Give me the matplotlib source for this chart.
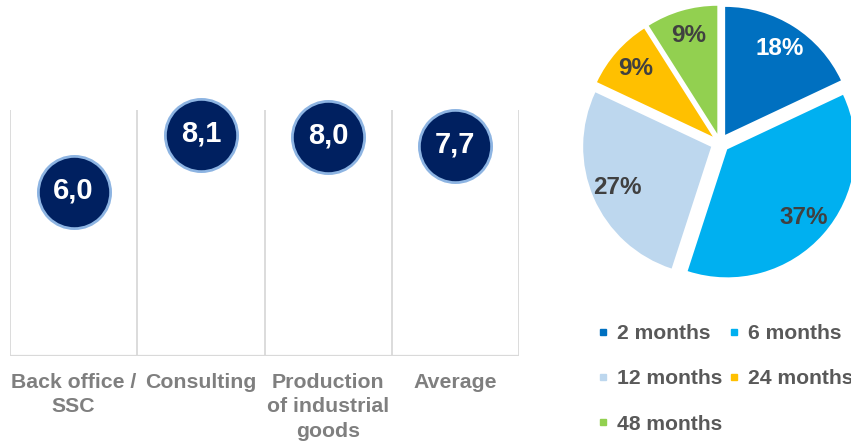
import matplotlib
matplotlib.use("Agg")
import matplotlib.pyplot as plt
from matplotlib.lines import Line2D

plt.rcParams["font.family"] = ["Liberation Sans", "DejaVu Sans"]
plt.rcParams["font.weight"] = "bold"

# left panel: average score per sector
sectors = ["Back office /\nSSC", "Consulting", "Production\nof industrial\ngoods", "Average"]
scores = [6.0, 8.1, 8.0, 7.7]

# right panel: share of contract durations
durations = ["2 months", "6 months", "12 months", "24 months", "48 months"]
shares = [18, 37, 27, 9, 9]
pie_colors = ["#0070C0", "#00B0F0", "#BDD7EE", "#FFC000", "#92D050"]

fig = plt.figure(figsize=(8.51, 4.41), dpi=100)
W, H = 851, 441

# ---- dot chart ----
ax = fig.add_axes([10 / W, (H - 356) / H, 509 / W, 246 / H])
ax.set_xlim(0, len(sectors))
ax.set_ylim(0, 9)
for x in range(len(sectors) + 1):
    ax.axvline(x, color="#D9D9D9", lw=1.3, zorder=1)
ax.axhline(0, color="#D9D9D9", lw=1.6, zorder=1)
for s in ax.spines.values():
    s.set_visible(False)
ax.set_xticks([])
ax.set_yticks([])

xs = [i + 0.5 for i in range(len(sectors))]
ax.plot(xs, scores, "o", ms=52, mfc="#002060", mec="#8DB4E2", mew=2, zorder=3, clip_on=False)
for x, v in zip(xs, scores):
    ax.text(x, v + 0.05, f"{v:.1f}".replace(".", ","), color="white", fontsize=21,
            fontweight="bold", ha="center", va="center", zorder=4)
for x, name in zip(xs, sectors):
    fig.text((10 + x * 509 / len(sectors)) / W, (H - 373) / H, name, color="#7F7F7F",
             fontsize=15.3, fontweight="bold", ha="center", va="top", linespacing=1.36)

# ---- pie chart ----
cx, cy, R, half = 720, 143, 128, 160
pax = fig.add_axes([(cx - half) / W, (H - cy - half) / H, 2 * half / W, 2 * half / H])
wedges, texts, autotexts = pax.pie(
    shares, colors=pie_colors, startangle=90, counterclock=False,
    explode=[0.075] * len(shares), autopct="%d%%", pctdistance=0.8,
    textprops=dict(fontsize=17.5, fontweight="bold", color="#404040"))
autotexts[0].set_color("white")
pax.set_xlim(-half / R, half / R)
pax.set_ylim(-half / R, half / R)
pax.set_aspect("equal", adjustable="box")

# legend laid out row by row: 2 | 6, 12 | 24, 48
order = [0, 2, 4, 1, 3]
handles = [Line2D([], [], ls="none", marker="s", ms=5, mfc=pie_colors[i], mec=pie_colors[i])
           for i in order]
fig.legend(handles, [durations[i] for i in order], ncol=2, frameon=False,
           loc="upper left", bbox_to_anchor=(598 / W, (H - 324) / H),
           prop=dict(size=15.2, weight="bold"), labelcolor="#595959",
           handlelength=0.45, handletextpad=0.45, columnspacing=0.33, labelspacing=1.25,
           borderaxespad=0, borderpad=0)

fig.savefig("out.png", dpi=100)
